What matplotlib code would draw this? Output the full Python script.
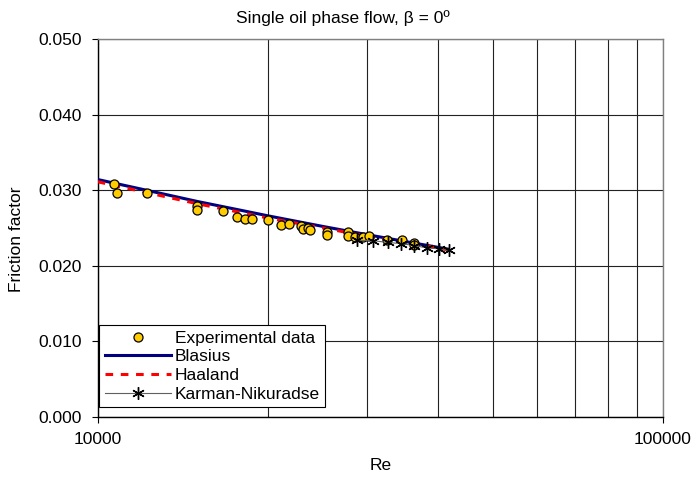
import matplotlib
matplotlib.use("Agg")
import matplotlib.pyplot as plt
from matplotlib.ticker import FixedLocator, NullFormatter, FormatStrFormatter

plt.rcParams['font.family'] = ['Liberation Sans', 'DejaVu Sans']
FS = 12.5

re_exp = [10700, 10830, 12230, 14970, 14970, 16690, 17620, 18250, 18730, 20000,
          21080, 21830, 22930, 23060, 23530, 23780, 25500, 25500, 27770, 27770,
          28540, 29440, 30250, 32550, 34520, 36290, 36290]
f_exp = [0.03087, 0.02968, 0.02968, 0.02796, 0.02734, 0.02717, 0.02638, 0.02619,
         0.02619, 0.02598, 0.02540, 0.02545, 0.02526, 0.02479, 0.02500, 0.02474,
         0.02443, 0.02403, 0.02439, 0.02394, 0.02381, 0.02381, 0.02386, 0.02337,
         0.02337, 0.02294, 0.02272]

# correlation curves
re_blasius = [10000, 12000, 15000, 18000, 20000, 25000, 30000, 35000, 41600]
f_blasius = [0.0314, 0.0301, 0.0285, 0.0273, 0.0266, 0.0252, 0.0241, 0.0232, 0.0222]
re_haaland = [10000, 12000, 15000, 18000, 20000, 25000, 30000, 35000, 41600]
f_haaland = [0.0311, 0.0298, 0.0282, 0.0270, 0.0263, 0.0250, 0.0239, 0.0231, 0.0221]

re_karman = [28770, 30720, 32640, 34490, 36360, 38260, 40190, 41860]
f_karman = [0.02337, 0.02330, 0.02307, 0.02291, 0.02265, 0.02235, 0.02222, 0.02201]

fig = plt.figure(figsize=(6.96, 4.78), dpi=100)
ax = fig.add_axes([0.1404, 0.1282, 0.8116, 0.7902])

ax.plot(re_blasius, f_blasius, color='#000080', lw=2.2, label='Blasius', zorder=3)
ax.plot(re_haaland, f_haaland, color='#FF0000', lw=2.2, ls=(0, (2.5, 2.5)),
        label='Haaland', zorder=4)
ax.plot(re_exp, f_exp, ls='none', marker='o', ms=6.5, mfc='#FFCC00', mec='black',
        mew=0.9, label='Experimental data', zorder=5)
ax.plot(re_karman, f_karman, color='#606060', lw=0.8, marker=(6, 2, 0), ms=9,
        mec='black', mew=1.0, label='Karman-Nikuradse', zorder=6)

ax.set_xscale('log')
ax.set_xlim(10000, 100000)
ax.set_ylim(0, 0.05)
ax.xaxis.set_major_locator(FixedLocator([10000, 100000]))
ax.xaxis.set_minor_locator(FixedLocator([20000, 30000, 40000, 50000, 60000, 70000, 80000, 90000]))
ax.xaxis.set_minor_formatter(NullFormatter())
ax.set_xticklabels(['10000', '100000'])
ax.set_yticks([0, 0.01, 0.02, 0.03, 0.04, 0.05])
ax.yaxis.set_major_formatter(FormatStrFormatter('%.3f'))
ax.tick_params(axis='both', which='major', direction='out', length=4.3, width=0.8,
               labelsize=FS)
ax.tick_params(axis='y', pad=7)
ax.tick_params(axis='x', pad=7)
ax.tick_params(axis='x', which='minor', length=0)
ax.grid(True, which='both', axis='x', color='#222222', lw=0.8)
ax.grid(True, which='major', axis='y', color='#222222', lw=0.8)
ax.set_axisbelow(True)

for s in ['left', 'bottom']:
    ax.spines[s].set_color('black')
    ax.spines[s].set_linewidth(1.0)
for s in ['top', 'right']:
    ax.spines[s].set_color('#808080')
    ax.spines[s].set_linewidth(1.0)

fig.text(343 / 696, 1 - 18 / 478, 'Single oil phase flow, β = 0º', fontsize=FS,
         ha='center', va='center')
fig.text(381 / 696, 1 - 465 / 478, 'Re', fontsize=FS, ha='center', va='center')
fig.text(17 / 696, 1 - 239 / 478, 'Friction factor', fontsize=FS, rotation=90,
         ha='center', va='center')

handles, labels = ax.get_legend_handles_labels()
order = [2, 0, 1, 3]
leg = ax.legend([handles[i] for i in order], [labels[i] for i in order],
                loc='lower left', bbox_to_anchor=(0.003, 0.026), fontsize=FS,
                handlelength=3.8, handletextpad=0.25, labelspacing=0.2,
                borderpad=0.3, borderaxespad=0, fancybox=False, framealpha=1,
                numpoints=1)
leg.get_frame().set_edgecolor('black')
leg.get_frame().set_linewidth(0.8)
leg.set_zorder(10)

fig.savefig('out.png', dpi=100)
